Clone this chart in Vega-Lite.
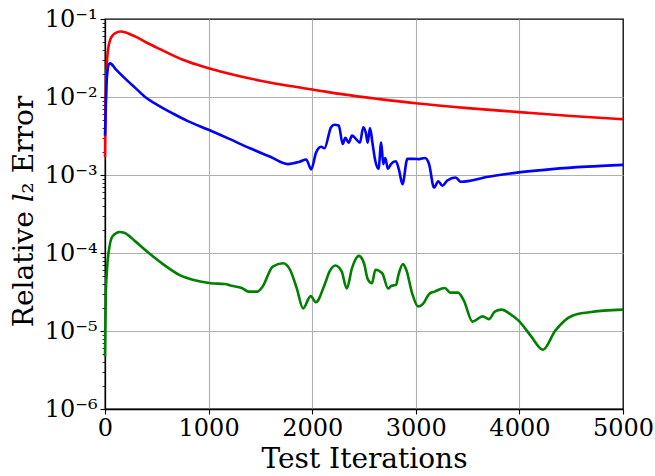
{
  "$schema": "https://vega.github.io/schema/vega-lite/v6.json",
  "width": 518,
  "height": 390,
  "autosize": "none",
  "padding": {"left": 105, "top": 19, "right": 32, "bottom": 67},
  "background": "white",
  "view": {"stroke": "#000000", "strokeWidth": 1.3, "fill": "white"},
  "config": {
    "font": "DejaVu Serif",
    "view": {"stroke": "#000000", "strokeWidth": 1.3}
  },
  "datasets": {
    "curves": [
      {"s": "red", "iter": 0, "err": 0.0017},
      {"s": "red", "iter": 5, "err": 0.006},
      {"s": "red", "iter": 10, "err": 0.014},
      {"s": "red", "iter": 20, "err": 0.03},
      {"s": "red", "iter": 35, "err": 0.045},
      {"s": "red", "iter": 50, "err": 0.054},
      {"s": "red", "iter": 75, "err": 0.062},
      {"s": "red", "iter": 100, "err": 0.066},
      {"s": "red", "iter": 150, "err": 0.069},
      {"s": "red", "iter": 200, "err": 0.067},
      {"s": "red", "iter": 250, "err": 0.063},
      {"s": "red", "iter": 300, "err": 0.059},
      {"s": "red", "iter": 400, "err": 0.050},
      {"s": "red", "iter": 500, "err": 0.043},
      {"s": "red", "iter": 600, "err": 0.037},
      {"s": "red", "iter": 750, "err": 0.030},
      {"s": "red", "iter": 1000, "err": 0.0234},
      {"s": "red", "iter": 1300, "err": 0.0185},
      {"s": "red", "iter": 1500, "err": 0.0162},
      {"s": "red", "iter": 1800, "err": 0.0137},
      {"s": "red", "iter": 2000, "err": 0.0125},
      {"s": "red", "iter": 2300, "err": 0.0108},
      {"s": "red", "iter": 2650, "err": 0.0094},
      {"s": "red", "iter": 3000, "err": 0.0083},
      {"s": "red", "iter": 3500, "err": 0.0072},
      {"s": "red", "iter": 4000, "err": 0.0064},
      {"s": "red", "iter": 4500, "err": 0.0057},
      {"s": "red", "iter": 5000, "err": 0.0052},

      {"s": "blue", "iter": 0, "err": 0.0032},
      {"s": "blue", "iter": 8, "err": 0.008},
      {"s": "blue", "iter": 15, "err": 0.015},
      {"s": "blue", "iter": 25, "err": 0.022},
      {"s": "blue", "iter": 35, "err": 0.026},
      {"s": "blue", "iter": 50, "err": 0.027},
      {"s": "blue", "iter": 100, "err": 0.023},
      {"s": "blue", "iter": 180, "err": 0.018},
      {"s": "blue", "iter": 300, "err": 0.0128},
      {"s": "blue", "iter": 400, "err": 0.0097},
      {"s": "blue", "iter": 500, "err": 0.008},
      {"s": "blue", "iter": 660, "err": 0.0061},
      {"s": "blue", "iter": 800, "err": 0.0049},
      {"s": "blue", "iter": 1000, "err": 0.0038},
      {"s": "blue", "iter": 1200, "err": 0.0029},
      {"s": "blue", "iter": 1400, "err": 0.0022},
      {"s": "blue", "iter": 1600, "err": 0.0017},
      {"s": "blue", "iter": 1766, "err": 0.00138},
      {"s": "blue", "iter": 1878, "err": 0.00148},
      {"s": "blue", "iter": 1942, "err": 0.00158},
      {"s": "blue", "iter": 1990, "err": 0.00118},
      {"s": "blue", "iter": 2038, "err": 0.00195},
      {"s": "blue", "iter": 2087, "err": 0.0023},
      {"s": "blue", "iter": 2118, "err": 0.0022},
      {"s": "blue", "iter": 2182, "err": 0.0041},
      {"s": "blue", "iter": 2214, "err": 0.0044},
      {"s": "blue", "iter": 2256, "err": 0.0043},
      {"s": "blue", "iter": 2295, "err": 0.0025},
      {"s": "blue", "iter": 2320, "err": 0.0030},
      {"s": "blue", "iter": 2352, "err": 0.0026},
      {"s": "blue", "iter": 2384, "err": 0.0032},
      {"s": "blue", "iter": 2423, "err": 0.0029},
      {"s": "blue", "iter": 2461, "err": 0.0026},
      {"s": "blue", "iter": 2493, "err": 0.0041},
      {"s": "blue", "iter": 2519, "err": 0.0034},
      {"s": "blue", "iter": 2535, "err": 0.0026},
      {"s": "blue", "iter": 2558, "err": 0.0040},
      {"s": "blue", "iter": 2583, "err": 0.0025},
      {"s": "blue", "iter": 2609, "err": 0.00152},
      {"s": "blue", "iter": 2640, "err": 0.0012},
      {"s": "blue", "iter": 2666, "err": 0.0026},
      {"s": "blue", "iter": 2686, "err": 0.00138},
      {"s": "blue", "iter": 2705, "err": 0.00165},
      {"s": "blue", "iter": 2731, "err": 0.0012},
      {"s": "blue", "iter": 2760, "err": 0.00138},
      {"s": "blue", "iter": 2808, "err": 0.0015},
      {"s": "blue", "iter": 2840, "err": 0.00113},
      {"s": "blue", "iter": 2871, "err": 0.00076},
      {"s": "blue", "iter": 2919, "err": 0.00161},
      {"s": "blue", "iter": 2983, "err": 0.00161},
      {"s": "blue", "iter": 3031, "err": 0.0016},
      {"s": "blue", "iter": 3089, "err": 0.00165},
      {"s": "blue", "iter": 3128, "err": 0.00138},
      {"s": "blue", "iter": 3176, "err": 0.00069},
      {"s": "blue", "iter": 3217, "err": 0.00083},
      {"s": "blue", "iter": 3256, "err": 0.00073},
      {"s": "blue", "iter": 3304, "err": 0.00085},
      {"s": "blue", "iter": 3385, "err": 0.00093},
      {"s": "blue", "iter": 3433, "err": 0.00082},
      {"s": "blue", "iter": 3700, "err": 0.00095},
      {"s": "blue", "iter": 3993, "err": 0.00108},
      {"s": "blue", "iter": 4314, "err": 0.00119},
      {"s": "blue", "iter": 4650, "err": 0.00128},
      {"s": "blue", "iter": 5000, "err": 0.00135},

      {"s": "green", "iter": 0, "err": 0.0000047},
      {"s": "green", "iter": 8, "err": 0.00003},
      {"s": "green", "iter": 18, "err": 0.000058},
      {"s": "green", "iter": 41, "err": 0.000116},
      {"s": "green", "iter": 75, "err": 0.000165},
      {"s": "green", "iter": 141, "err": 0.000186},
      {"s": "green", "iter": 186, "err": 0.000182},
      {"s": "green", "iter": 290, "err": 0.000142},
      {"s": "green", "iter": 423, "err": 0.0001},
      {"s": "green", "iter": 573, "err": 0.00007},
      {"s": "green", "iter": 722, "err": 0.000052},
      {"s": "green", "iter": 856, "err": 0.000045},
      {"s": "green", "iter": 1021, "err": 0.000041},
      {"s": "green", "iter": 1155, "err": 0.00004},
      {"s": "green", "iter": 1221, "err": 0.000038},
      {"s": "green", "iter": 1320, "err": 0.0000356},
      {"s": "green", "iter": 1387, "err": 0.000032},
      {"s": "green", "iter": 1470, "err": 0.000032},
      {"s": "green", "iter": 1520, "err": 0.000037},
      {"s": "green", "iter": 1619, "err": 0.000067},
      {"s": "green", "iter": 1719, "err": 0.000074},
      {"s": "green", "iter": 1786, "err": 0.000061},
      {"s": "green", "iter": 1852, "err": 0.000035},
      {"s": "green", "iter": 1912, "err": 0.0000195},
      {"s": "green", "iter": 1985, "err": 0.000028},
      {"s": "green", "iter": 2035, "err": 0.0000234},
      {"s": "green", "iter": 2118, "err": 0.0000387},
      {"s": "green", "iter": 2168, "err": 0.000058},
      {"s": "green", "iter": 2224, "err": 0.000069},
      {"s": "green", "iter": 2284, "err": 0.000058},
      {"s": "green", "iter": 2334, "err": 0.000035},
      {"s": "green", "iter": 2384, "err": 0.000064},
      {"s": "green", "iter": 2450, "err": 0.000092},
      {"s": "green", "iter": 2500, "err": 0.000074},
      {"s": "green", "iter": 2534, "err": 0.000047},
      {"s": "green", "iter": 2577, "err": 0.000041},
      {"s": "green", "iter": 2610, "err": 0.000061},
      {"s": "green", "iter": 2676, "err": 0.000055},
      {"s": "green", "iter": 2733, "err": 0.000035},
      {"s": "green", "iter": 2765, "err": 0.000038},
      {"s": "green", "iter": 2809, "err": 0.000039},
      {"s": "green", "iter": 2832, "err": 0.000052},
      {"s": "green", "iter": 2875, "err": 0.000072},
      {"s": "green", "iter": 2908, "err": 0.000061},
      {"s": "green", "iter": 2966, "err": 0.00003},
      {"s": "green", "iter": 3022, "err": 0.0000206},
      {"s": "green", "iter": 3066, "err": 0.000022},
      {"s": "green", "iter": 3132, "err": 0.00003},
      {"s": "green", "iter": 3182, "err": 0.000032},
      {"s": "green", "iter": 3281, "err": 0.0000356},
      {"s": "green", "iter": 3331, "err": 0.000031},
      {"s": "green", "iter": 3407, "err": 0.000031},
      {"s": "green", "iter": 3463, "err": 0.0000247},
      {"s": "green", "iter": 3547, "err": 0.0000132},
      {"s": "green", "iter": 3646, "err": 0.0000154},
      {"s": "green", "iter": 3706, "err": 0.0000142},
      {"s": "green", "iter": 3762, "err": 0.0000177},
      {"s": "green", "iter": 3828, "err": 0.0000188},
      {"s": "green", "iter": 3912, "err": 0.0000165},
      {"s": "green", "iter": 3995, "err": 0.0000135},
      {"s": "green", "iter": 4112, "err": 0.0000086},
      {"s": "green", "iter": 4228, "err": 0.00000575},
      {"s": "green", "iter": 4344, "err": 0.00001},
      {"s": "green", "iter": 4510, "err": 0.0000157},
      {"s": "green", "iter": 4676, "err": 0.0000174},
      {"s": "green", "iter": 5000, "err": 0.0000188}
    ]
  },
  "data": {"name": "curves"},
  "mark": {"type": "line", "strokeWidth": 2.6, "interpolate": "monotone"},
  "encoding": {
    "x": {
      "field": "iter", "type": "quantitative",
      "scale": {"domain": [0, 5000], "nice": false, "zero": false},
      "axis": {
        "values": [0, 1000, 2000, 3000, 4000, 5000],
        "format": "d",
        "title": "Test Iterations",
        "titleFont": "DejaVu Serif", "titleFontSize": 28, "titleFontWeight": "normal", "titleColor": "#000000",
        "titleBaseline": "alphabetic", "titleY": 58,
        "labelFont": "DejaVu Serif", "labelFontSize": 24, "labelColor": "#000000", "labelPadding": 2,
        "labelFlush": false, "labelOverlap": false,
        "tickSize": 5, "tickColor": "#000000", "tickWidth": 1.1,
        "domainColor": "#000000", "domainWidth": 1.3,
        "grid": true, "gridColor": "#b0b0b0", "gridWidth": 1.1,
        "gridOpacity": {"condition": {"test": "datum.value > 0 && datum.value < 5000", "value": 1}, "value": 0}
      }
    },
    "y": {
      "field": "err", "type": "quantitative",
      "scale": {"type": "log", "domain": [0.000001, 0.1], "nice": false},
      "axis": {
        "values": [0.000001,0.000002,0.000003,0.000004,0.000005,0.000006,0.000007,0.000008,0.000009,
                   0.00001,0.00002,0.00003,0.00004,0.00005,0.00006,0.00007,0.00008,0.00009,
                   0.0001,0.0002,0.0003,0.0004,0.0005,0.0006,0.0007,0.0008,0.0009,
                   0.001,0.002,0.003,0.004,0.005,0.006,0.007,0.008,0.009,
                   0.01,0.02,0.03,0.04,0.05,0.06,0.07,0.08,0.09,0.1],
        "labelExpr": "abs(log(datum.value)/LN10 - round(log(datum.value)/LN10)) < 0.001 ? '10⁻' + ['','¹','²','³','⁴','⁵','⁶'][-round(log(datum.value)/LN10)] : ''",
        "title": "Relative 𝑙₂ Error",
        "titleFont": "DejaVu Serif", "titleFontSize": 28, "titleFontWeight": "normal", "titleColor": "#000000",
        "titleBaseline": "alphabetic", "titleX": -73, "titleY": 192,
        "labelFont": "DejaVu Serif", "labelFontSize": 24, "labelColor": "#000000", "labelPadding": 3,
        "labelFlush": false, "labelOverlap": false,
        "tickSize": {"condition": {"test": "abs(log(datum.value)/LN10 - round(log(datum.value)/LN10)) < 0.001", "value": 5}, "value": 3},
        "tickColor": "#000000",
        "tickWidth": {"condition": {"test": "abs(log(datum.value)/LN10 - round(log(datum.value)/LN10)) < 0.001", "value": 1.1}, "value": 0.8},
        "domainColor": "#000000", "domainWidth": 1.3,
        "grid": true, "gridColor": "#b0b0b0",
        "gridWidth": 1.1,
        "gridOpacity": {"condition": {"test": "abs(log(datum.value)/LN10 - round(log(datum.value)/LN10)) < 0.001 && datum.value < 0.05 && datum.value > 0.000002", "value": 1}, "value": 0}
      }
    },
    "color": {
      "field": "s", "type": "nominal",
      "scale": {"domain": ["red", "blue", "green"], "range": ["#ff0000", "#0000ff", "#008000"]},
      "legend": null
    }
  }
}
